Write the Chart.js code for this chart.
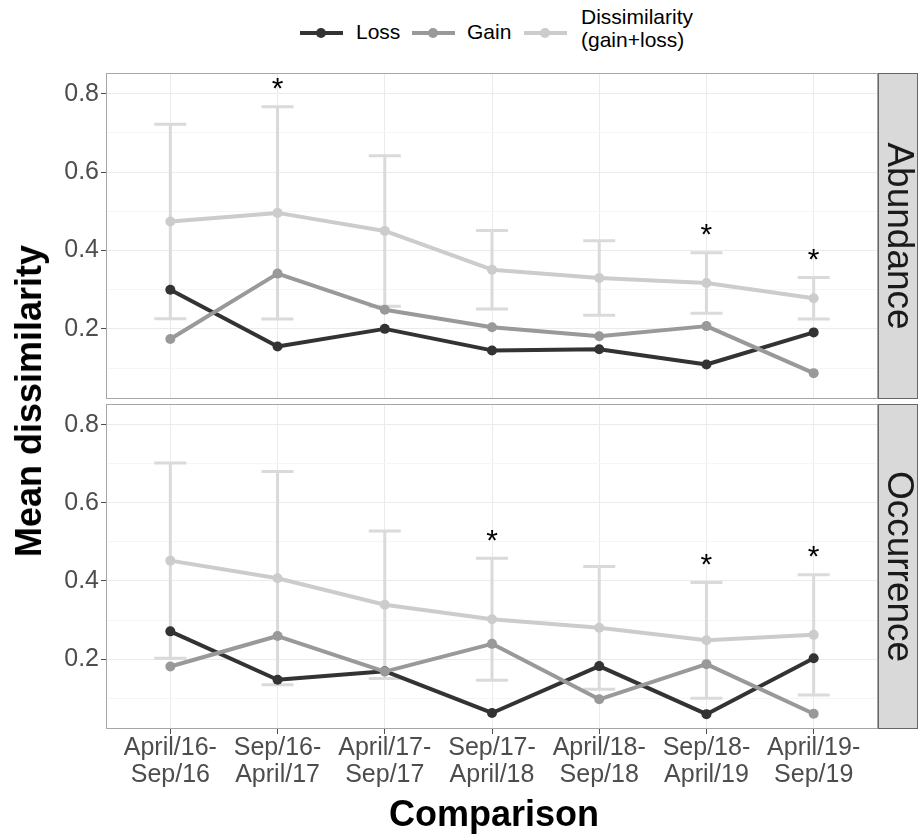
<!DOCTYPE html>
<html>
<head>
<meta charset="utf-8">
<script src="https://cdn.jsdelivr.net/npm/chart.js@4.4.1/dist/chart.umd.min.js"></script>
<style>
  body { margin: 0; background: #fff; }
  #wrap { position: relative; width: 922px; height: 837px; font-family: "Liberation Sans", Arial, sans-serif; }
  canvas { position: absolute; left: 0; }
  #topPanel { top: 0; }
  #bottomPanel { top: 399px; }
  .key { position: absolute; top: 31px; width: 43px; height: 4px; }
  .key::after { content: ""; position: absolute; left: 16px; top: -3px; width: 10px; height: 10px; border-radius: 50%; background: inherit; }
  .ltext { position: absolute; font-size: 21px; line-height: 21px; color: #000; white-space: nowrap; }
  #yTitle { position: absolute; left: 29px; top: 401px; transform: translate(-50%, -50%) rotate(-90deg);
            font-size: 36px; font-weight: bold; line-height: 36px; white-space: nowrap; }
  #xTitle { position: absolute; left: 494px; top: 796px; transform: translateX(-50%);
            font-size: 36px; font-weight: bold; line-height: 36px; white-space: nowrap; }
</style>
</head>
<body>
<div id="wrap">
  <div class="key" style="left:300px; background:#333333"></div>
  <div class="ltext" style="left:356px; top:21px">Loss</div>
  <div class="key" style="left:412px; background:#999999"></div>
  <div class="ltext" style="left:467px; top:21px">Gain</div>
  <div class="key" style="left:524px; background:#cccccc"></div>
  <div class="ltext" style="left:581px; top:5px; line-height:23px">Dissimilarity<br>(gain+loss)</div>

  <canvas id="topPanel" width="922" height="404"></canvas>
  <canvas id="bottomPanel" width="922" height="438"></canvas>

  <div id="yTitle">Mean dissimilarity</div>
  <div id="xTitle">Comparison</div>
</div>

<script>
// ==== Data ====
const categories = [
  ['April/16-', 'Sep/16'], ['Sep/16-', 'April/17'], ['April/17-', 'Sep/17'],
  ['Sep/17-', 'April/18'], ['April/18-', 'Sep/18'], ['Sep/18-', 'April/19'],
  ['April/19-', 'Sep/19']
];

const abundLoss   = [0.300, 0.155, 0.200, 0.145, 0.148, 0.109, 0.191];
const abundGain   = [0.174, 0.341, 0.249, 0.204, 0.181, 0.207, 0.087];
const abundDissim = [0.474, 0.496, 0.450, 0.351, 0.330, 0.317, 0.278];
const abundSd     = [0.248, 0.271, 0.192, 0.100, 0.095, 0.077, 0.053];
const abundSig    = [false, true, false, false, false, true, true];

const occLoss   = [0.271, 0.147, 0.169, 0.062, 0.182, 0.059, 0.202];
const occGain   = [0.181, 0.259, 0.168, 0.239, 0.097, 0.187, 0.060];
const occDissim = [0.452, 0.407, 0.339, 0.302, 0.280, 0.248, 0.262];
const occSd     = [0.250, 0.273, 0.189, 0.156, 0.157, 0.148, 0.154];
const occSig    = [false, false, false, true, false, true, true];

const yMajor = [0.2, 0.4, 0.6, 0.8];
const yMinor = [0.1, 0.3, 0.5, 0.7];
const yMin = 0.021, yMax = 0.853;
const starGap = 0.065;

const colLoss = '#333333', colGain = '#999999', colDissim = '#cccccc', colErr = '#dadada';
const FONT = '"Liberation Sans", Arial, sans-serif';

// ==== Panel decorations: error bars, asterisks, border, strip ====
function makeDecor(dissim, sd, sig, label) {
  return {
    id: 'decor',
    beforeDatasetsDraw(chart) {
      const { ctx, scales: { x, y } } = chart;
      ctx.save();
      ctx.strokeStyle = colErr;
      ctx.lineWidth = 3;
      dissim.forEach((m, i) => {
        const px = x.getPixelForValue(i);
        const t = y.getPixelForValue(m + sd[i]);
        const b = y.getPixelForValue(m - sd[i]);
        ctx.beginPath();
        ctx.moveTo(px, t); ctx.lineTo(px, b);
        ctx.moveTo(px - 16, t); ctx.lineTo(px + 16, t);
        ctx.moveTo(px - 16, b); ctx.lineTo(px + 16, b);
        ctx.stroke();
      });
      ctx.restore();
    },
    afterDraw(chart) {
      const { ctx, chartArea: a, scales: { x, y } } = chart;
      ctx.save();
      // asterisks
      ctx.fillStyle = '#000';
      ctx.font = '30px ' + FONT;
      ctx.textAlign = 'center';
      ctx.textBaseline = 'alphabetic';
      sig.forEach((s, i) => {
        if (!s) return;
        const cy = y.getPixelForValue(dissim[i] + sd[i] + starGap);
        ctx.fillText('*', x.getPixelForValue(i), cy + 0.57 * 30);
      });
      // panel border
      ctx.strokeStyle = '#a6a6a6';
      ctx.lineWidth = 1;
      ctx.strokeRect(a.left + 0.5, a.top + 0.5, a.right - a.left - 1, a.bottom - a.top - 1);
      // strip
      ctx.fillStyle = '#d9d9d9';
      ctx.fillRect(a.right, a.top, 40, a.bottom - a.top);
      ctx.strokeStyle = '#666666';
      ctx.strokeRect(a.right + 0.5, a.top + 0.5, 39, a.bottom - a.top - 1);
      ctx.translate(a.right + 20, (a.top + a.bottom) / 2);
      ctx.rotate(Math.PI / 2);
      ctx.fillStyle = '#1a1a1a';
      ctx.font = '37px ' + FONT;
      ctx.textAlign = 'center';
      ctx.textBaseline = 'middle';
      ctx.fillText(label, 0, 0);
      ctx.restore();
    }
  };
}

function makePanel(canvasId, loss, gain, dissim, sd, sig, label, isBottom) {
  const pts = arr => arr.map((v, i) => ({ x: i, y: v }));
  const line = (name, arr, col, order) => ({
    label: name, data: pts(arr), order: order,
    borderColor: col, backgroundColor: col, pointBackgroundColor: col,
    borderWidth: 4, pointRadius: 5, pointBorderWidth: 0, tension: 0,
    borderJoinStyle: 'round'
  });

  return new Chart(document.getElementById(canvasId), {
    type: 'line',
    data: {
      datasets: [
        line('Loss', loss, colLoss, 3),
        line('Gain', gain, colGain, 2),
        line('Dissimilarity (gain+loss)', dissim, colDissim, 1)
      ]
    },
    options: {
      responsive: false,
      animation: false,
      events: [],
      // top panel area 73-399, bottom panel area 404-729 (bottom canvas starts at 399)
      layout: { padding: { left: 0, top: isBottom ? 5 : 73, right: 44, bottom: isBottom ? 0 : 5 } },
      plugins: { legend: { display: false }, tooltip: { enabled: false } },
      scales: {
        x: {
          type: 'linear', min: -0.6, max: 6.6,
          afterBuildTicks: s => { s.ticks = categories.map((c, i) => ({ value: i })); },
          afterFit: s => { s.height = isBottom ? 108 : 0; s.paddingLeft = 0; s.paddingRight = 0; },
          border: { display: false },
          grid: { color: '#ebebeb', lineWidth: 1, drawTicks: isBottom, tickLength: 5, tickColor: '#4d4d4d' },
          ticks: {
            display: isBottom, autoSkip: false, maxRotation: 0, minRotation: 0, padding: 1,
            color: '#4d4d4d', font: { family: FONT, size: 25, lineHeight: 1.07 },
            callback: v => categories[v]
          }
        },
        y: {
          min: yMin, max: yMax,
          afterBuildTicks: s => { s.ticks = yMinor.concat(yMajor).sort((a, b) => a - b).map(v => ({ value: v })); },
          afterFit: s => { s.width = 106; s.paddingTop = 0; s.paddingBottom = 0; },
          border: { display: false },
          grid: {
            lineWidth: 1, tickLength: 5,
            color: c => yMajor.includes(c.tick.value) ? '#ebebeb' : '#f5f5f5',
            tickColor: c => yMajor.includes(c.tick.value) ? '#4d4d4d' : 'rgba(0,0,0,0)'
          },
          ticks: {
            padding: 2, color: '#4d4d4d', font: { family: FONT, size: 25 },
            callback: v => yMajor.includes(v) ? v.toFixed(1) : ''
          }
        }
      }
    },
    plugins: [makeDecor(dissim, sd, sig, label)]
  });
}

makePanel('topPanel', abundLoss, abundGain, abundDissim, abundSd, abundSig, 'Abundance', false);
makePanel('bottomPanel', occLoss, occGain, occDissim, occSd, occSig, 'Occurrence', true);
</script>
</body>
</html>
